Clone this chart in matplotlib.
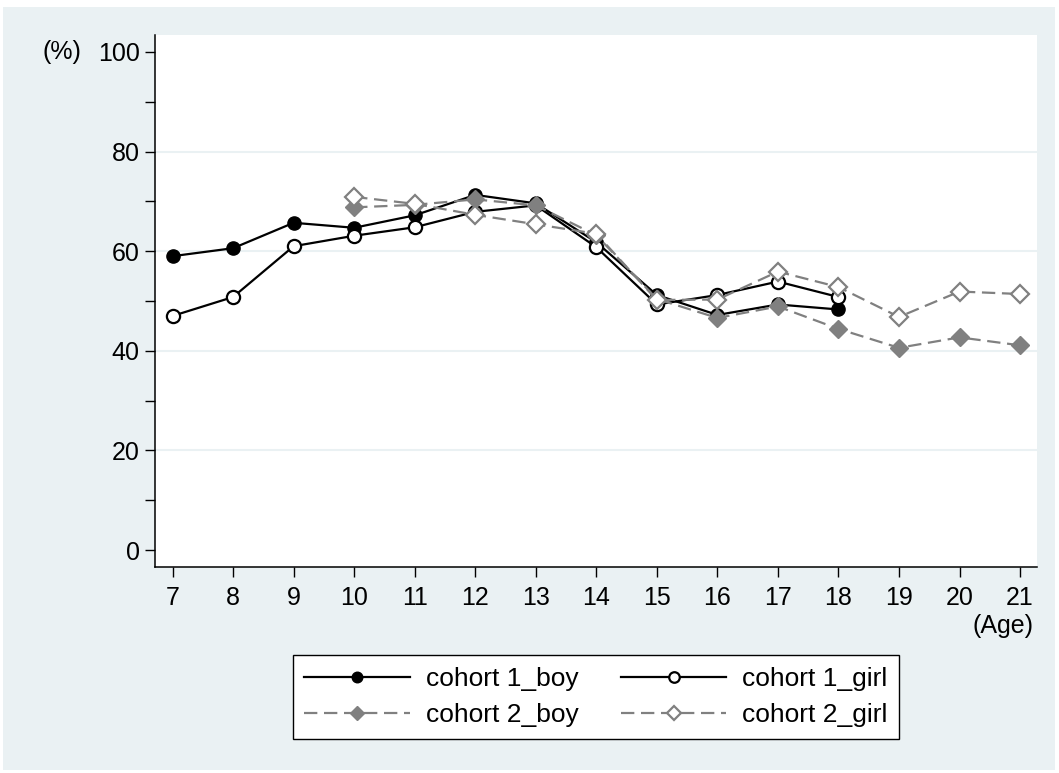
import numpy as np
import matplotlib
matplotlib.use("Agg")
import matplotlib.pyplot as plt
from matplotlib.patches import Rectangle

plt.rcParams['font.family'] = ['Liberation Sans', 'DejaVu Sans']

# data (percent by age)
age_c1 = [7, 8, 9, 10, 11, 12, 13, 14, 15, 16, 17, 18]
c1_boy = [59.0, 60.6, 65.7, 64.7, 67.2, 71.3, 69.6, 61.8, 51.2, 47.2, 49.3, 48.3]
c1_girl = [47.0, 50.8, 61.0, 63.1, 64.8, 67.9, 69.2, 60.8, 49.3, 51.2, 53.9, 50.8]

age_c2 = [10, 11, 12, 13, 14, 15, 16, 17, 18, 19, 20, 21]
c2_boy = [68.8, 69.3, 70.4, 69.2, 63.2, 50.4, 46.6, 48.9, 44.4, 40.6, 42.7, 41.1]
c2_girl = [70.9, 69.5, 67.3, 65.4, 63.5, 50.2, 50.3, 55.9, 52.8, 46.8, 51.9, 51.4]

x_ticks = list(range(7, 22))
y_ticks = [0, 20, 40, 60, 80, 100]

bg = '#eaf1f3'
gray = '#808080'

fig = plt.figure(figsize=(10.59, 7.73), dpi=100, facecolor='white')
fig.patches.append(Rectangle((3/1059, 3/773), 1052/1059, 763/773, transform=fig.transFigure,
                             facecolor=bg, edgecolor='none', zorder=-5))

ax = fig.add_axes([155/1059, (773-567)/773, (1037-155)/1059, (567-35)/773])
ax.set_zorder(2)
ax.set_facecolor('white')

l1, = ax.plot(age_c1, c1_boy, color='black', lw=1.6, marker='o', ms=9.5,
              mfc='black', mec='black', label='cohort 1_boy')
l2, = ax.plot(age_c1, c1_girl, color='black', lw=1.6, marker='o', ms=9.5,
              mfc='white', mec='black', mew=1.6, label='cohort 1_girl')
l3, = ax.plot(age_c2, c2_boy, color=gray, lw=1.6, ls=(0, (6, 3)), marker='D', ms=9,
              mfc=gray, mec=gray, label='cohort 2_boy')
l4, = ax.plot(age_c2, c2_girl, color=gray, lw=1.6, ls=(0, (6, 3)), marker='D', ms=9,
              mfc='white', mec=gray, mew=1.6, label='cohort 2_girl')

ax.set_xlim(6.71, 21.28)
ax.set_ylim(-3.4, 103.4)
ax.set_xticks(x_ticks)
ax.set_yticks(y_ticks)
ax.set_yticks([10, 30, 50, 70, 90], minor=True)
for y in [20, 40, 60, 80]:
    ax.axhline(y, color=bg, lw=1.5, zorder=0)

for s in ['top', 'right']:
    ax.spines[s].set_visible(False)
ax.spines['left'].set_linewidth(1.1)
ax.spines['bottom'].set_linewidth(1.1)
ax.tick_params(axis='x', length=7, width=1.0, pad=7, labelsize=18)
ax.tick_params(axis='y', which='both', length=7, width=1.0, pad=4, labelsize=18)

fig.text(42/1059, 1 - 52/773, '(%)', fontsize=18, ha='left', va='center')
fig.text(1034/1059, 1 - 626/773, '(Age)', fontsize=18, ha='right', va='center')

leg = fig.legend(handles=[l1, l3, l2, l4], ncol=2, loc='center',
                 bbox_to_anchor=(596/1059, 1 - 697/773), fontsize=19,
                 handlelength=4, handletextpad=0.6, columnspacing=1.6,
                 labelspacing=0.45, borderpad=0.45, fancybox=False,
                 frameon=True, framealpha=1, markerscale=0.8)
leg.get_frame().set_edgecolor('black')
leg.get_frame().set_linewidth(1.0)

fig.savefig('out.png', dpi=100, facecolor=fig.get_facecolor())
